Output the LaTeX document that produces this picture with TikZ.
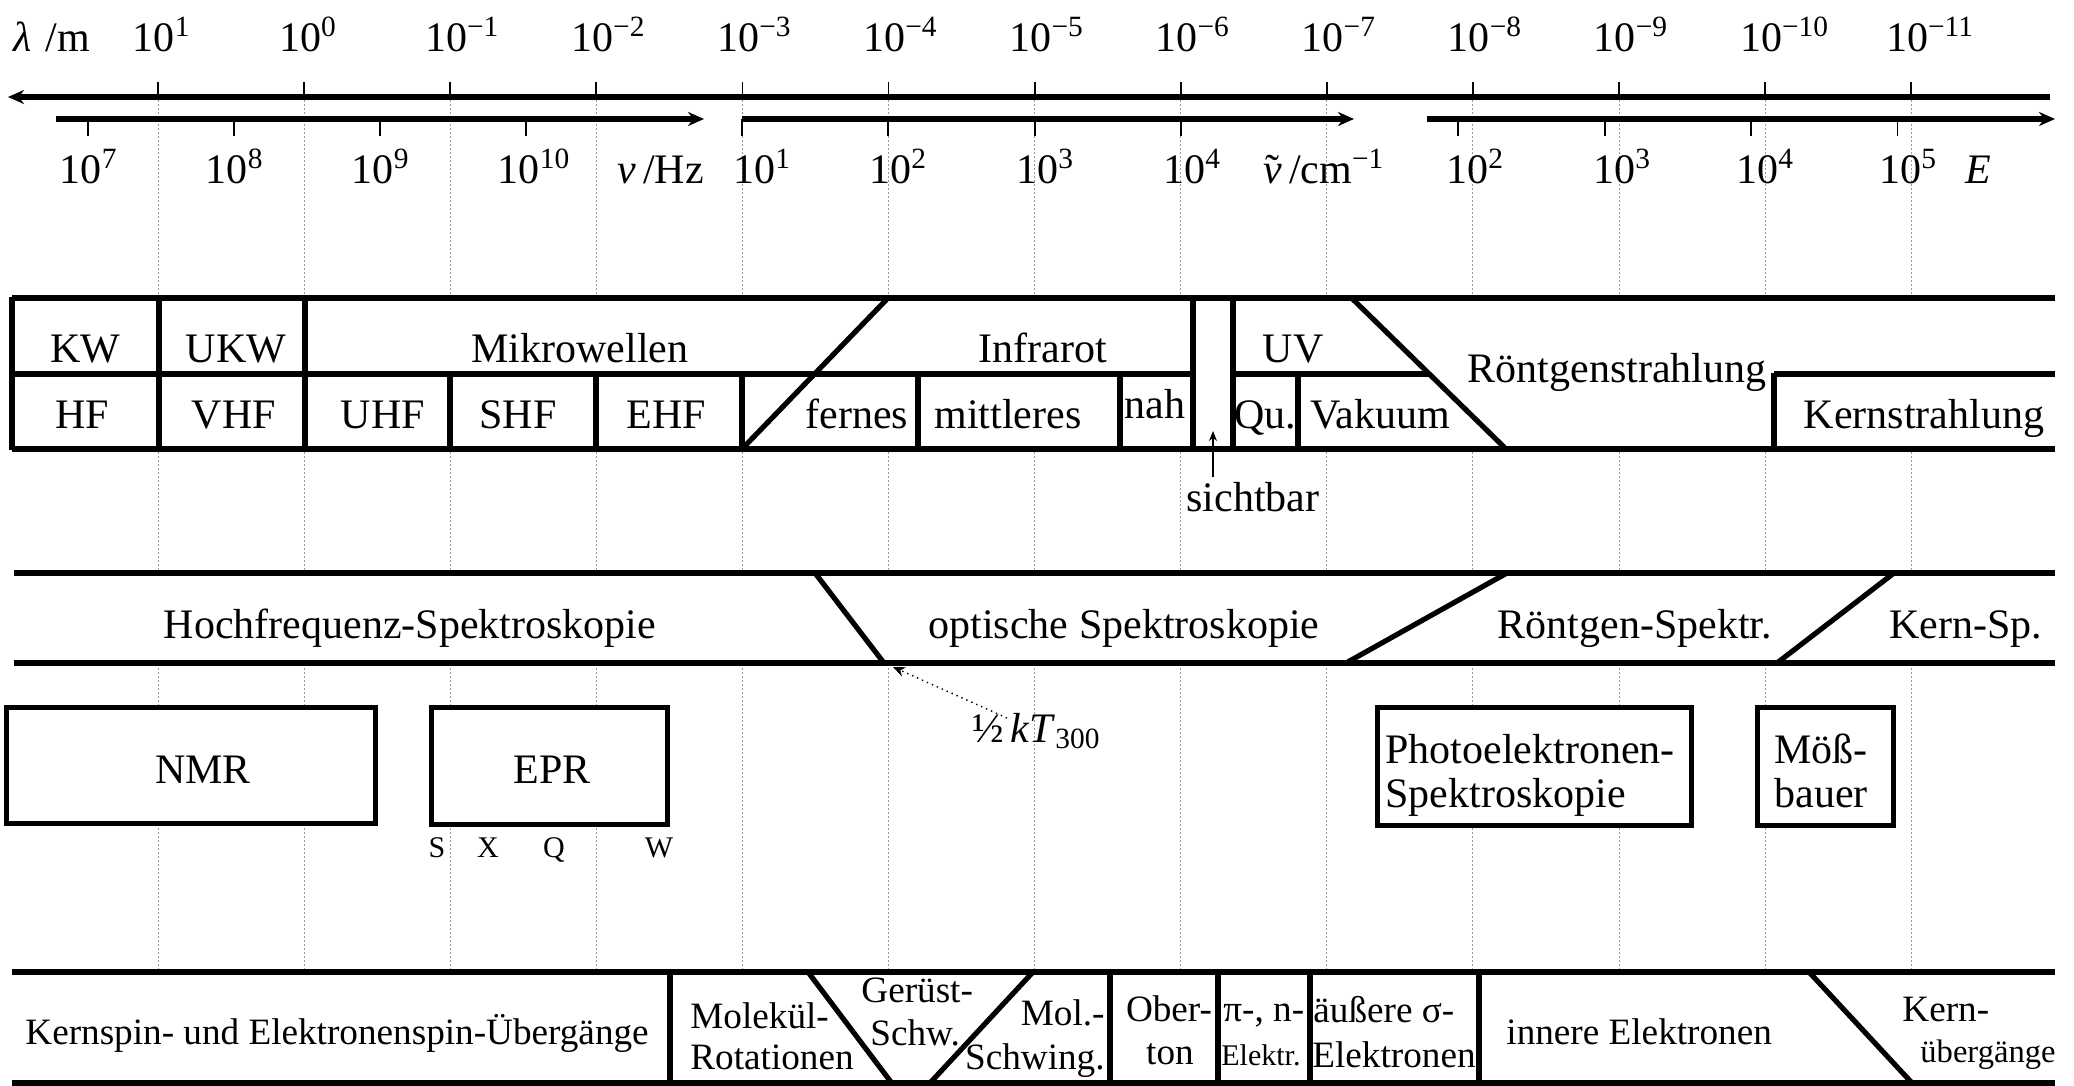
\documentclass[tikz,border=0pt]{standalone}
\usepackage{fontspec}
\setmainfont{Liberation Serif}
\usetikzlibrary{arrows.meta}
\newcommand\fA{\fontsize{21}{25}\selectfont}
\newcommand\fB{\fontsize{18.6}{22}\selectfont}
\newcommand\fC{\fontsize{15}{18}\selectfont}
\newcommand\fD{\fontsize{16.3}{20}\selectfont}
\newcommand\tenp[1]{10\textsuperscript{#1}}
\newcommand\nutil{\makebox[0pt][l]{\hspace{0.06em}\char"02DC}\textit{ν}}
\begin{document}
\begin{tikzpicture}[x=0.5pt,y=-0.5pt,
  band/.style={line width=2.6pt},
  axisln/.style={line width=2.6pt},
  tck/.style={line width=0.9pt},
  gridln/.style={line width=0.5pt, gray!80, dash pattern=on 1pt off 1pt},
  lab/.style={inner sep=0pt, anchor=base, font=\fA},
  labw/.style={inner sep=0pt, anchor=base west, font=\fA},
  blab/.style={inner sep=0pt, anchor=base west, font=\fB},
  bsmall/.style={inner sep=0pt, anchor=base west, font=\fC},
  boxst/.style={draw, line width=2.5pt, inner sep=0pt, fill=white},
  tipst/.style={-{Stealth[length=8pt,width=7pt]}}]

\fill[white] (0,0) rectangle (2074,1086);
\path[use as bounding box] (0,0) rectangle (2074,1086);

% grid
\foreach \i in {0,...,12}
  \draw[gridln] ({158+146.1*\i},100) -- ({158+146.1*\i},972);

% lambda axis
\draw[line width=3pt, tipst] (2050,97) -- (8,97);
\foreach \e [count=\i from 0] in {1,0,−1,−2,−3,−4,−5,−6,−7,−8,−9,−10,−11} {
  \draw[tck] ({158+146.1*\i},82) -- ({158+146.1*\i},97);
  \node[labw] (lam\i) at ({158+146.1*\i-25.5},52) {\tenp{\e}};
}
\node[labw] (lamunit) at (13,52) {\textit{λ}\,\,/m};

% frequency axis
\draw[axisln, tipst] (56,119) -- (704,119);
\foreach \x/\e [count=\i] in {88/7,234/8,380/9,526/10} {
  \draw[tck] (\x,119) -- (\x,136);
  \node[labw] (nu\i) at (\x-28.5,184) {\tenp{\e}};
}
\node[labw] (nuunit) at (617,184) {\textit{ν}\,/Hz};

% wavenumber axis
\draw[axisln, tipst] (742,119) -- (1354,119);
\foreach \x/\l/\e [count=\i] in {742/733/1,888/869/2,1035/1016/3,1181/1163/4} {
  \draw[tck] (\x,119) -- (\x,136);
  \node[labw] (wn\i) at (\l,184) {\tenp{\e}};
}
\node[labw] (wnunit) at (1263,184) {\nutil\,/cm\textsuperscript{−1}};

% energy axis
\draw[axisln, tipst] (1427,119) -- (2055,119);
\foreach \x/\l/\e [count=\i] in {1458/1446/2,1605/1593/3,1751/1736/4,1897.5/1879/5} {
  \draw[tck] (\x,119) -- (\x,136);
  \node[labw] (en\i) at (\l,184) {\tenp{\e}};
}
\node[labw] (enunit) at (1965,184) {\textit{E}};

% ---------- band 1: radiation
\fill[white] (12,298) rectangle (2055,449);
\draw[band] (12,298) -- (2055,298);
\draw[band] (12,449) -- (2055,449);
\draw[band] (12,296.7) -- (12,450.3);
\draw[band] (12,374) -- (1193,374);
\draw[band] (1233,374) -- (1429,374);
\draw[band] (1774,374) -- (2055,374);
\draw[band] (1774,372.7) -- (1774,449);
\foreach \x in {159,305,1193,1233} \draw[band] (\x,298) -- (\x,449);
\foreach \x in {450,596,742,918,1120,1298} \draw[band] (\x,374) -- (\x,449);
\draw[band] (888,298) -- (742,449);
\draw[band] (1351.6,298) -- (1506,449);

\node[lab] (kw)   at (85.5,362) {KW};
\node[lab] (ukw)  at (236,362) {UKW};
\node[lab] (mw)   at (580,362) {Mikrowellen};
\node[lab] (ir)   at (1043,362) {Infrarot};
\node[lab] (uv)   at (1293,362) {UV};
\node[lab] (hf)   at (82,428) {HF};
\node[lab] (vhf)  at (234,428) {VHF};
\node[lab] (uhf)  at (383,428) {UHF};
\node[lab] (shf)  at (518,428) {SHF};
\node[lab] (ehf)  at (666.5,428) {EHF};
\node[lab] (fern) at (857,428) {fernes};
\node[lab] (mitt) at (1008,428) {mittleres};
\node[lab] (nah)  at (1155,418) {nah};
\node[lab] (qu)   at (1265.5,428) {Qu.};
\node[lab] (vak)  at (1380,428) {Vakuum};
\node[lab] (roe)  at (1617,382) {Röntgenstrahlung};
\node[lab] (kern) at (1924,428) {Kernstrahlung};

\node[labw] (sb) at (1186,511) {sichtbar};
\coordinate (sbtail) at (1213,477);
\coordinate (sbtip) at (1213,431);
\draw[line width=0.8pt, -{Stealth[length=5pt,width=4pt]}] (sbtail) -- (sbtip);

% ---------- band 2: spectroscopy
\fill[white] (14,573) rectangle (2055,663);
\draw[band] (14,573) -- (2055,573);
\draw[band] (14,663) -- (2055,663);
\draw[band] (815,573) -- (884,663);
\draw[band] (1507,573) -- (1346,663);
\draw[band] (1894,573) -- (1777,663);
\node[lab] (hfs)  at (410,638) {Hochfrequenz-Spektroskopie};
\node[lab] (opt)  at (1124,638) {optische Spektroskopie};
\node[lab] (rs)   at (1635,638) {Röntgen-Spektr.};
\node[lab] (ks)   at (1966,638) {Kern-Sp.};

\node[labw] (kt) at (972,742) {½\,\textit{kT}\textsubscript{300}};
\coordinate (kttail) at (1007,718);
\coordinate (kttip) at (893,667);
\draw[line width=0.7pt, dotted, -{Stealth[length=6pt,width=5pt,inset=2pt]}] (kttail) -- (kttip);

% ---------- boxes
\node[boxst, minimum width=184.5pt, minimum height=58pt] (nmrbox) at (191,765.5) {};
\node[lab] (nmr) at (203,783) {NMR};
\node[boxst, minimum width=118pt, minimum height=58.5pt] (eprbox) at (549.5,766) {};
\node[lab] (epr) at (552,783) {EPR};
\node[inner sep=0pt, anchor=base, font=\fC] (bs) at (437,857) {S};
\node[inner sep=0pt, anchor=base, font=\fC] (bx) at (488,857) {X};
\node[inner sep=0pt, anchor=base, font=\fC] (bq) at (554,857) {Q};
\node[inner sep=0pt, anchor=base, font=\fC] (bw) at (659,857) {W};

\node[boxst, minimum width=157pt, minimum height=59pt] (pebox) at (1534.5,766.5) {};
\node[labw] (pe1) at (1385,763) {Photoelektronen-};
\node[labw] (pe2) at (1385,807) {Spektroskopie};
\node[boxst, minimum width=68pt, minimum height=59pt] (mbbox) at (1825.5,766.5) {};
\node[labw] (mb1) at (1774,763) {Möß-};
\node[labw] (mb2) at (1774,807) {bauer};

% ---------- band 3: transitions
\fill[white] (12,972) rectangle (2055,1083);
\draw[band] (12,972) -- (2055,972);
\draw[band] (12,1083) -- (2055,1083);
\foreach \x in {670,1110,1218,1310,1479} \draw[band] (\x,972) -- (\x,1083);
\draw[band] (808,972) -- (891.7,1083);
\draw[band] (1033,972) -- (930,1083);
\draw[band] (1809,972) -- (1912,1083);

\node[blab] (ksp)  at (25,1044) {Kernspin- und Elektronenspin-Übergänge};
\node[blab] (mol1) at (690,1028) {Molekül-};
\node[blab] (mol2) at (690,1069) {Rotationen};
\node[blab] (ger1) at (861,1002) {Gerüst-};
\node[blab] (ger2) at (870,1045) {Schw.};
\node[inner sep=0pt, anchor=base east, font=\fB] (ms1) at (1105,1025) {Mol.-};
\node[inner sep=0pt, anchor=base east, font=\fB] (ms2) at (1105,1069) {Schwing.};
\node[inner sep=0pt, anchor=base, font=\fB] (ob1) at (1169,1021) {Ober-};
\node[inner sep=0pt, anchor=base, font=\fB] (ob2) at (1170,1064) {ton};
\node[blab] (pi1) at (1223,1021) {π-, n-};
\node[bsmall] (pi2) at (1221,1065) {Elektr.};
\node[blab] (as1) at (1313,1022) {äußere σ-};
\node[blab] (as2) at (1312,1067) {Elektronen};
\node[blab] (ie)  at (1506,1044) {innere Elektronen};
\node[blab] (ku1) at (1902,1021) {Kern-};
\node[inner sep=0pt, anchor=base west, font=\fD] (ku2) at (1920,1062) {übergänge};
\end{tikzpicture}
\end{document}
